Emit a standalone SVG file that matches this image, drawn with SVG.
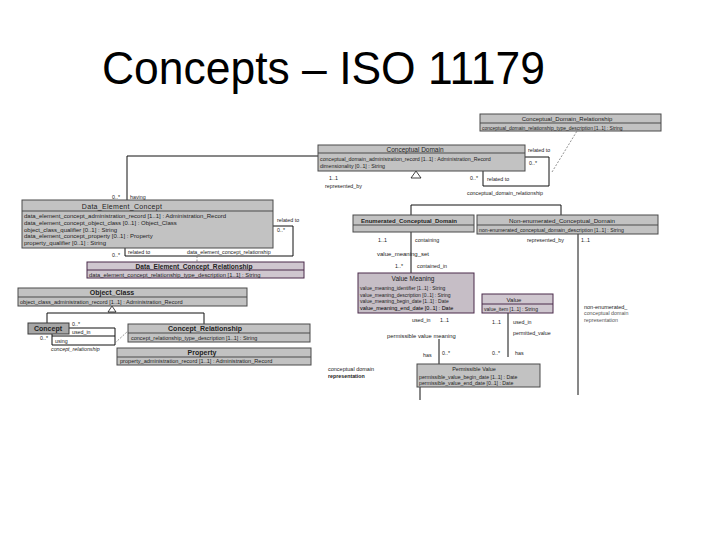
<svg xmlns="http://www.w3.org/2000/svg" width="720" height="540" viewBox="0 0 720 540">
<style>
text{font-family:"Liberation Sans",Arial,sans-serif;fill:#222}
.box{fill:#c2c2c2;stroke:#4a4a4a;stroke-width:1}
.pbox{fill:#cfc7cf;stroke:#4a2a4a;stroke-width:1}
.sep{stroke:#4a4a4a;stroke-width:1}
.psep{stroke:#4a2a4a;stroke-width:1}
.ln{fill:none;stroke:#111;stroke-width:1}
.dash{fill:none;stroke:#777;stroke-width:0.8;stroke-dasharray:2 1.5}
.gen{fill:#fff;stroke:#111;stroke-width:0.8}
.lb{font-size:5.3px}
.h{text-anchor:middle}
.b{font-weight:bold}
</style>
<rect width="720" height="540" fill="#fff"/>
<text x="102" y="84" font-size="46" textLength="443" lengthAdjust="spacingAndGlyphs" style="fill:#000">Concepts – ISO 11179</text>

<g id="connectors">
<polyline class="ln" points="318,156 127,156 127,200"/>
<polyline class="ln" points="525,157 549,157 549,186 483,186 483,171"/>
<line class="dash" x1="552" y1="172" x2="577" y2="131"/>
<polygon class="gen" points="416,171 411,178 421,178"/>
<polyline class="ln" points="411,215 411,205 561,205 561,215"/>
<line class="ln" x1="411" y1="232" x2="411" y2="273"/>
<line class="ln" x1="578" y1="234" x2="578" y2="395"/>
<line class="ln" x1="439" y1="339" x2="439" y2="364"/>
<line class="ln" x1="508" y1="313" x2="508" y2="357"/>
<line class="ln" x1="420" y1="387" x2="420" y2="400"/>
<polyline class="ln" points="273,226 293,226 293,256 125,256 125,248"/>
<line class="dash" x1="197" y1="256" x2="197" y2="262"/>
<polygon class="gen" points="112,306 108,312 116,312"/>
<polyline class="ln" points="47,323 47,313 204,313 204,324"/>
<polyline class="ln" points="69,328 115,328 115,345 52,345 52,334"/>
<line class="ln" x1="52" y1="336" x2="115" y2="336"/>
<line class="dash" x1="115" y1="343" x2="128" y2="331"/>

<text class="lb" x="112" y="199">0..*</text>
<text class="lb" x="130" y="199">having</text>
<text class="lb" x="528" y="152">related to</text>
<text class="lb" x="529" y="165">0..*</text>
<text class="lb" x="470" y="180">0..*</text>
<text class="lb" x="487" y="181">related to</text>
<text class="lb" x="467" y="195">conceptual_domain_relationship</text>
<text class="lb" x="329" y="180">1..1</text>
<text class="lb" x="325" y="188">represented_by</text>
<text class="lb" x="378" y="242">1..1</text>
<text class="lb" x="415" y="242">containing</text>
<text x="377" y="256" font-size="6">value_meaning_set</text>
<text class="lb" x="395" y="268">1..*</text>
<text class="lb" x="417" y="268">contained_in</text>
<text class="lb" x="527" y="242">represented_by</text>
<text class="lb" x="581" y="242">1..1</text>
<text x="584" y="308.5" font-size="5.5">non-enumerated_</text>
<text x="584" y="315" font-size="5.3" style="fill:#555">conceptual domain</text>
<text x="584" y="321.5" font-size="5.3" style="fill:#555">representation</text>
<text class="lb" x="412" y="322">used_in</text>
<text class="lb" x="440" y="322">1..1</text>
<text x="387" y="338" font-size="5.8">permissible value meaning</text>
<text class="lb" x="423" y="357">has</text>
<text class="lb" x="442" y="355">0..*</text>
<text class="lb" x="492" y="324">1..1</text>
<text class="lb" x="513" y="324">used_in</text>
<text class="lb" x="513" y="335">permitted_value</text>
<text class="lb" x="492" y="355">0..*</text>
<text class="lb" x="515" y="355">has</text>
<text x="328" y="371" font-size="5.5">conceptual domain</text>
<text x="328" y="378" font-size="5.3" class="b">representation</text>
<text class="lb" x="277" y="222">related to</text>
<text class="lb" x="277" y="232">0..*</text>
<text class="lb" x="112" y="257">0..*</text>
<text class="lb" x="128" y="254">related to</text>
<text class="lb" x="187" y="254">data_element_concept_relationship</text>
<text class="lb" x="72" y="326">0..*</text>
<text class="lb" x="72" y="334">used_in</text>
<text class="lb" x="55" y="343">using</text>
<text class="lb" x="40" y="340">0..*</text>
<text class="lb" x="51" y="351" font-style="italic">concept_relationship</text>
</g>

<g id="conceptual_domain_relationship">
<rect class="box" x="480" y="114" width="181" height="17"/>
<line class="sep" x1="480" y1="123" x2="661" y2="123"/>
<text class="h" x="567" y="121" font-size="6">Conceptual_Domain_Relationship</text>
<text x="482" y="129.5" font-size="5">conceptual_domain_relationship_type_description [1..1] : String</text>
</g>

<g id="conceptual_domain">
<rect class="box" x="318" y="145" width="207" height="26"/>
<line class="sep" x1="318" y1="153" x2="525" y2="153"/>
<text class="h" x="415" y="151.5" font-size="6.5">Conceptual Domain</text>
<text x="320" y="160.5" font-size="5.3">conceptual_domain_administration_record [1..1] : Administration_Record</text>
<text x="320" y="167.5" font-size="5.3">dimensionality [0..1] : String</text>
</g>

<g id="data_element_concept">
<rect class="box" x="22" y="200" width="251" height="48"/>
<line class="sep" x1="22" y1="211" x2="273" y2="211"/>
<text class="h" x="122" y="208.5" font-size="7" letter-spacing="0.3">Data_Element_Concept</text>
<text x="24" y="217.5" font-size="6">data_element_concept_administration_record [1..1] : Administration_Record</text>
<text x="24" y="224.5" font-size="6">data_element_concept_object_class [0..1] : Object_Class</text>
<text x="24" y="231.5" font-size="6">object_class_qualifier [0..1] : String</text>
<text x="24" y="238" font-size="6">data_element_concept_property [0..1] : Property</text>
<text x="24" y="244.5" font-size="6">property_qualifier [0..1] : String</text>
</g>

<g id="data_element_concept_relationship">
<rect class="pbox" x="87" y="262" width="217" height="16"/>
<line class="psep" x1="87" y1="270" x2="304" y2="270"/>
<text class="h b" x="194" y="268.5" font-size="6.6">Data_Element_Concept_Relationship</text>
<text x="89" y="276.5" font-size="5.8">data_element_concept_relationship_type_description [1..1] : String</text>
</g>

<g id="object_class">
<rect class="box" x="18" y="288" width="229" height="18"/>
<line class="sep" x1="18" y1="297" x2="247" y2="297"/>
<text class="h b" x="112" y="295" font-size="7">Object_Class</text>
<text x="20" y="303.5" font-size="5.6">object_class_administration_record [1..1] : Administration_Record</text>
</g>

<g id="concept">
<rect x="28" y="323" width="41" height="11" style="fill:#a6a6a6;stroke:#3a3a3a;stroke-width:1"/>
<text class="h b" x="48" y="331" font-size="7">Concept</text>
</g>

<g id="concept_relationship">
<rect class="box" x="128" y="324" width="182" height="18"/>
<line class="sep" x1="128" y1="333" x2="310" y2="333"/>
<text class="h b" x="205" y="331" font-size="7">Concept_Relationship</text>
<text x="131" y="339.5" font-size="5.5">concept_relationship_type_description [1..1] : String</text>
</g>

<g id="property">
<rect class="box" x="117" y="348" width="194" height="17"/>
<line class="sep" x1="117" y1="357" x2="311" y2="357"/>
<text class="h b" x="202" y="355" font-size="7">Property</text>
<text x="120" y="363" font-size="5.6">property_administration_record [1..1] : Administration_Record</text>
</g>

<g id="enumerated_conceptual_domain">
<rect class="box" x="353" y="215" width="121" height="17"/>
<line class="sep" x1="353" y1="225" x2="474" y2="225"/>
<text class="h b" x="409" y="222.5" font-size="6">Enumerated_Conceptual_Domain</text>
</g>

<g id="non_enumerated_conceptual_domain">
<rect class="box" x="477" y="215" width="181" height="19"/>
<line class="sep" x1="477" y1="225" x2="658" y2="225"/>
<text class="h" x="562" y="222.5" font-size="6.2">Non-enumerated_Conceptual_Domain</text>
<text x="479" y="231.5" font-size="5.2">non-enumerated_conceptual_domain_description [1..1] : String</text>
</g>

<g id="value_meaning">
<rect class="pbox" x="358" y="273" width="116" height="40" style="fill:#c6bec6"/>
<text class="h" x="413" y="281" font-size="6.5">Value Meaning</text>
<text x="360" y="290" font-size="5">value_meaning_identifier [1..1] : String</text>
<text x="360" y="296.5" font-size="5">value_meaning_description [0..1] : String</text>
<text x="360" y="303" font-size="5">value_meaning_begin_date [1..1] : Date</text>
<text x="360" y="310" font-size="5.5" style="fill:#000">value_meaning_end_date [0..1] : Date</text>
</g>

<g id="value">
<rect class="pbox" x="482" y="294" width="71" height="19"/>
<line class="psep" x1="482" y1="304" x2="553" y2="304"/>
<text class="h" x="514" y="301.5" font-size="6">Value</text>
<text x="484" y="310.5" font-size="5">value_item [1..1] : String</text>
</g>

<g id="permissible_value">
<rect class="box" x="417" y="364" width="123" height="23"/>
<text class="h" x="474" y="371" font-size="5.5">Permissible Value</text>
<text x="419" y="378.5" font-size="5.2">permissible_value_begin_date [1..1] : Date</text>
<text x="419" y="385" font-size="5.2">permissible_value_end_date [0..1] : Date</text>
</g>
</svg>
